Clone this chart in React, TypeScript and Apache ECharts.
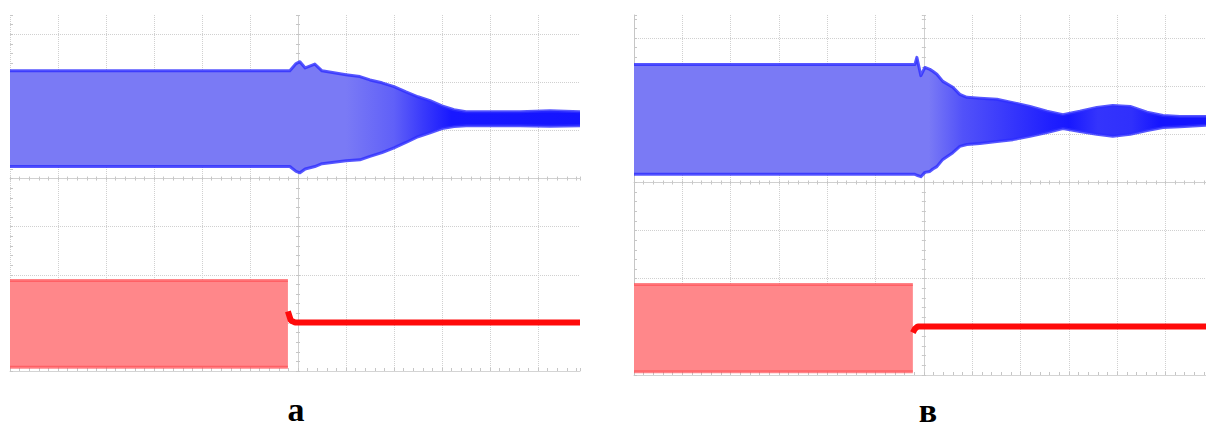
import React, { useEffect, useRef } from 'react';
import * as echarts from 'echarts';

// Units: screen divisions, x relative to centre line, y relative to centre line
// Panel a (left)
const leftBlueX = [-6, -0.17, -0.04, 0.04, 0.15, 0.35, 0.5, 1.0, 1.29, 1.5, 1.75, 2.0, 2.25, 2.5, 2.75, 3.0, 3.25, 3.5, 4.0, 4.625, 5.25, 5.875];
const leftBlueUpper = [2.24, 2.24, 2.39, 2.43, 2.3, 2.38, 2.24, 2.16, 2.12, 2.05, 1.99, 1.91, 1.8, 1.7, 1.62, 1.51, 1.43, 1.39, 1.39, 1.39, 1.41, 1.39];
const leftBlueLower = [0.25, 0.25, 0.15, 0.12, 0.2, 0.25, 0.31, 0.37, 0.39, 0.46, 0.54, 0.64, 0.75, 0.87, 0.95, 1.04, 1.08, 1.1, 1.1, 1.1, 1.09, 1.1];
const leftRedX = [-6, -0.21];
const leftRedUpper = [-2.12, -2.12];
const leftRedLower = [-3.92, -3.92];
const leftRedFlatX = [-0.21, -0.15, -0.06, 5.875];
const leftRedFlat = [-2.76, -2.95, -2.99, -2.99];

// Panel в (right)
const rightBlueX = [-6, -0.186, -0.145, -0.062, 0.021, 0.124, 0.186, 0.269, 0.393, 0.6, 0.745, 0.89, 1.159, 1.511, 1.843, 2.195, 2.547, 2.878, 3.23, 3.58, 3.91, 4.27, 4.62, 4.95, 5.3, 5.84];
const rightBlueUpper = [2.45, 2.45, 2.6, 2.22, 2.39, 2.35, 2.31, 2.25, 2.1, 1.98, 1.83, 1.77, 1.75, 1.73, 1.66, 1.58, 1.48, 1.41, 1.48, 1.56, 1.6, 1.58, 1.46, 1.39, 1.37, 1.37];
const rightBlueLower = [0.17, 0.17, 0.15, 0.12, 0.21, 0.23, 0.28, 0.33, 0.48, 0.62, 0.75, 0.79, 0.81, 0.85, 0.89, 0.96, 1.04, 1.12, 1.06, 1.0, 0.96, 1.0, 1.08, 1.14, 1.16, 1.19];
const rightRedX = [-6, -0.228];
const rightRedUpper = [-2.12, -2.12];
const rightRedLower = [-3.93, -3.93];
const rightRedFlatX = [-0.228, -0.186, -0.124, 5.84];
const rightRedFlat = [-3.12, -3.04, -2.99, -2.99];

const panelLabels = ['a', 'в'];

const GRID_COLOR = '#d0d0d0';
const AXIS_COLOR = '#c6c6c6';

function pairs(xs: number[], ys: number[]) {
  return xs.map((x, i) => [x, ys[i]]);
}
function triples(xs: number[], lo: number[], hi: number[]) {
  return xs.map((x, i) => [x, lo[i], hi[i]]);
}

function axesFor(g: number, xmax: number, ymax: number, showLeftLine: boolean) {
  const mainX = g * 3;
  const mainY = g * 3;
  const xs: any[] = [
    {
      type: 'value', gridIndex: g, min: -6, max: xmax, interval: 1, position: 'bottom',
      axisLine: { show: true, onZero: false, lineStyle: { color: '#d4d4d4' } },
      axisTick: { show: true, inside: true, length: 3, lineStyle: { color: AXIS_COLOR } },
      minorTick: { show: true, splitNumber: 5, length: 3, lineStyle: { color: AXIS_COLOR } },
      axisLabel: { show: false },
      splitLine: { show: true, showMaxLine: false, lineStyle: { color: GRID_COLOR, type: 'dotted' } },
    },
    {
      type: 'value', gridIndex: g, min: -6, max: xmax, interval: 1, position: 'bottom',
      axisLine: { show: true, onZero: true, onZeroAxisIndex: mainY, lineStyle: { color: '#d0d0d0' } },
      axisTick: { show: true, inside: true, length: 2, lineStyle: { color: AXIS_COLOR } },
      minorTick: { show: true, splitNumber: 5, length: 2, lineStyle: { color: AXIS_COLOR } },
      axisLabel: { show: false }, splitLine: { show: false },
    },
    {
      type: 'value', gridIndex: g, min: -6, max: xmax, interval: 1, position: 'top',
      axisLine: { show: false, onZero: true, onZeroAxisIndex: mainY },
      axisTick: { show: true, inside: true, length: 2, lineStyle: { color: AXIS_COLOR } },
      minorTick: { show: true, splitNumber: 5, length: 2, lineStyle: { color: AXIS_COLOR } },
      axisLabel: { show: false }, splitLine: { show: false },
    },
  ];
  const ys: any[] = [
    {
      type: 'value', gridIndex: g, min: -4, max: ymax, interval: 1, position: 'left',
      axisLine: { show: showLeftLine, onZero: false, lineStyle: { color: AXIS_COLOR } },
      axisTick: { show: true, inside: true, length: 3, lineStyle: { color: AXIS_COLOR } },
      minorTick: { show: true, splitNumber: 5, length: 3, lineStyle: { color: AXIS_COLOR } },
      axisLabel: { show: false },
      splitLine: { show: true, showMaxLine: false, showMinLine: false, lineStyle: { color: GRID_COLOR, type: 'dotted' } },
    },
    {
      type: 'value', gridIndex: g, min: -4, max: ymax, interval: 1, position: 'left',
      axisLine: { show: true, onZero: true, onZeroAxisIndex: mainX, lineStyle: { color: '#d0d0d0', type: 'dotted' } },
      axisTick: { show: true, inside: true, length: 2, lineStyle: { color: AXIS_COLOR } },
      minorTick: { show: true, splitNumber: 5, length: 2, lineStyle: { color: AXIS_COLOR } },
      axisLabel: { show: false }, splitLine: { show: false },
    },
    {
      type: 'value', gridIndex: g, min: -4, max: ymax, interval: 1, position: 'right',
      axisLine: { show: false, onZero: true, onZeroAxisIndex: mainX },
      axisTick: { show: true, inside: true, length: 2, lineStyle: { color: AXIS_COLOR } },
      minorTick: { show: true, splitNumber: 5, length: 2, lineStyle: { color: AXIS_COLOR } },
      axisLabel: { show: false }, splitLine: { show: false },
    },
  ];
  return { xs, ys };
}

// custom series drawing an envelope band (lower..upper) through the axes' scales
function bandSeries(g: number, name: string, data: number[][], fill: any, edgeColor: string, edgeWidth: number, z: number) {
  return {
    type: 'custom', name, xAxisIndex: g * 3, yAxisIndex: g * 3, silent: true, z,
    data,
    encode: { x: 0, y: [1, 2] },
    renderItem: (params: any, api: any) => {
      if (params.dataIndexInside !== 0) return null;
      const n = params.dataInsideLength;
      const top: number[][] = [];
      const bot: number[][] = [];
      for (let i = 0; i < n; i++) {
        const x = api.value(0, i);
        bot.push(api.coord([x, api.value(1, i)]));
        top.push(api.coord([x, api.value(2, i)]));
      }
      const poly = top.concat(bot.slice().reverse());
      return {
        type: 'group',
        children: [
          { type: 'polygon', shape: { points: poly }, style: { fill, stroke: null } },
          { type: 'polyline', shape: { points: top }, style: { stroke: edgeColor, lineWidth: edgeWidth, fill: null, lineJoin: 'round' } },
          { type: 'polyline', shape: { points: bot }, style: { stroke: edgeColor, lineWidth: edgeWidth, fill: null, lineJoin: 'round' } },
        ],
      };
    },
  };
}

function gradientFor(xmax: number, stops: [number, string][]) {
  const span = xmax + 6;
  return new echarts.graphic.LinearGradient(0, 0, 1, 0,
    stops.map(([x, c]) => ({ offset: Math.max(0, Math.min(1, (x + 6) / span)), color: c })));
}

export default function App() {
  const ref = useRef<HTMLDivElement>(null);
  useEffect(() => {
    if (!ref.current) return;
    const chart = echarts.init(ref.current, undefined, { renderer: 'svg' });
    const a = axesFor(0, 5.875, 3.4, false);
    const b = axesFor(1, 5.84, 3.48, true);
    const L = '#7a7af5';
    const leftFill = gradientFor(5.875, [[-6, L], [1, L], [2, '#6060f8'], [2.6, '#3a3afb'], [3.2, '#1818ff'], [5.875, '#1414ff']]);
    const rightFill = gradientFor(5.84, [[-6, L], [0.1, L], [0.8, '#5252f9'], [1.6, '#3c3cfb'], [2.6, '#2020fe'], [3.0, '#1818ff'], [3.6, '#3434fc'], [4.3, '#3030fc'], [4.9, '#1414ff'], [5.84, '#1414ff']]);
    const blueEdge = 'rgba(45,45,255,0.8)';
    const redEdge = 'rgba(255,80,85,0.7)';
    const flatLine = (g: number, name: string, xs: number[], ys: number[]) => ({
      type: 'line', name, xAxisIndex: g * 3, yAxisIndex: g * 3, showSymbol: false, symbol: 'none', silent: true, z: 4,
      data: pairs(xs, ys), lineStyle: { color: '#ff0a0a', width: 6 },
    });
    const option: any = {
      animation: false,
      backgroundColor: '#ffffff',
      grid: [
        { left: 10, top: 15, width: 570, height: 356 },
        { left: 634, top: 15, width: 572, height: 360 },
      ],
      xAxis: [...a.xs, ...b.xs],
      yAxis: [...a.ys, ...b.ys],
      series: [
        bandSeries(0, 'a-blue', triples(leftBlueX, leftBlueLower, leftBlueUpper), leftFill, blueEdge, 3, 2),
        bandSeries(0, 'a-red', triples(leftRedX, leftRedLower, leftRedUpper), '#ff878a', redEdge, 3, 2),
        flatLine(0, 'a-red-flat', leftRedFlatX, leftRedFlat),
        bandSeries(1, 'b-blue', triples(rightBlueX, rightBlueLower, rightBlueUpper), rightFill, blueEdge, 3, 2),
        bandSeries(1, 'b-red', triples(rightRedX, rightRedLower, rightRedUpper), '#ff878a', redEdge, 3, 2),
        flatLine(1, 'b-red-flat', rightRedFlatX, rightRedFlat),
      ],
      graphic: [
        {
          type: 'text', x: 296, y: 409,
          style: { text: panelLabels[0], font: 'bold 34px "Times New Roman", "Liberation Serif", serif', fill: '#000', align: 'center', verticalAlign: 'middle', textAlign: 'center', textVerticalAlign: 'middle' },
        },
        {
          type: 'text', x: 928, y: 410,
          style: { text: panelLabels[1], font: 'bold 34px "Times New Roman", "Liberation Serif", serif', fill: '#000', align: 'center', verticalAlign: 'middle', textAlign: 'center', textVerticalAlign: 'middle' },
        },
      ],
    };
    chart.setOption(option);
    return () => chart.dispose();
  }, []);
  return <div ref={ref} style={{ position: 'absolute', left: 0, top: 0, width: 1206, height: 427, background: '#fff' }} />;
}
